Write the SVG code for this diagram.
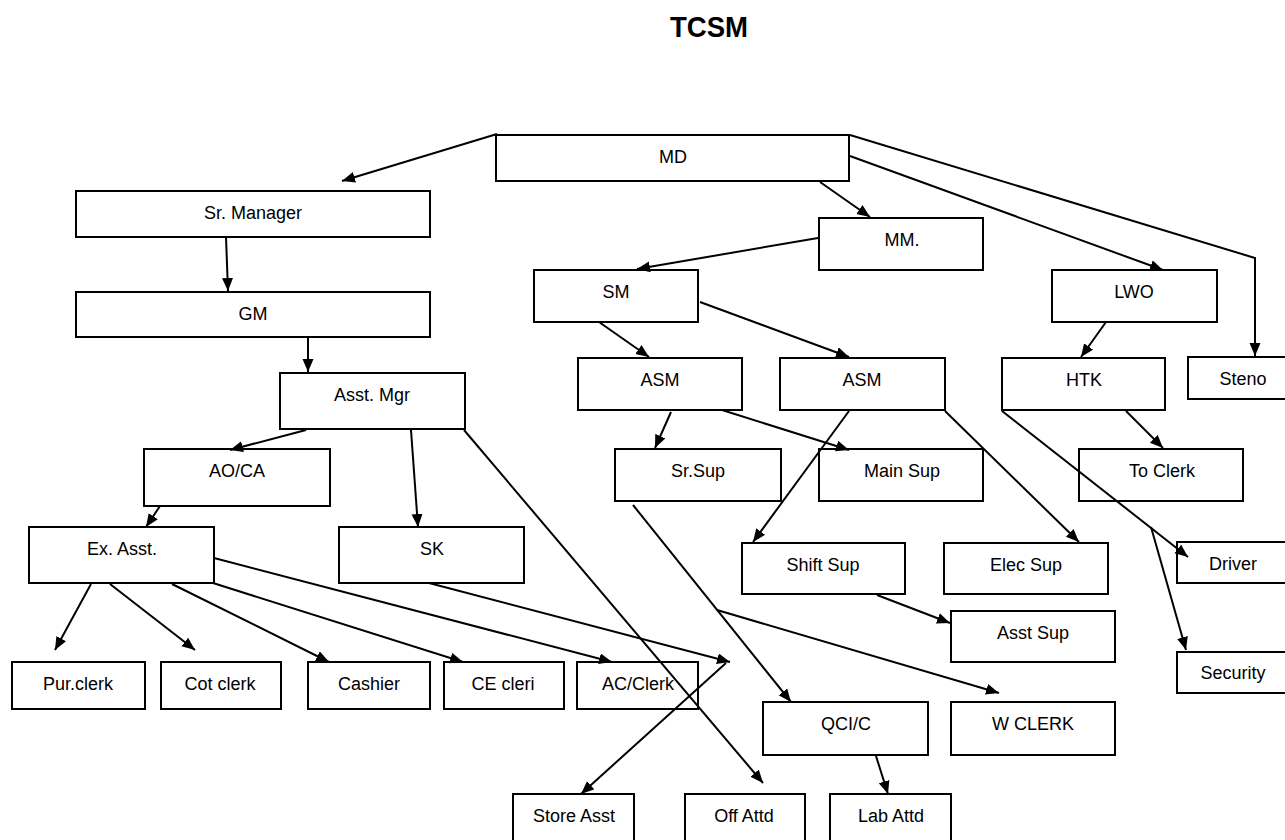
<svg xmlns="http://www.w3.org/2000/svg" width="1285" height="840" viewBox="0 0 1285 840">
  <style>
    .box { fill: #ffffff; stroke: #000000; stroke-width: 2; }
    .lbl { font-family: "Liberation Sans", Arial, sans-serif; font-size: 18px; fill: #000000; text-anchor: middle; }
    .title { font-family: "Liberation Sans", Arial, sans-serif; font-size: 30px; font-weight: bold; fill: #000000; text-anchor: middle; }
    .edge { fill: none; stroke: #000000; stroke-width: 2; marker-end: url(#arrow); }
  </style>
  <defs>
    <marker id="arrow" markerUnits="userSpaceOnUse" markerWidth="15" markerHeight="12" refX="13" refY="5.5" orient="auto">
      <path d="M0,0 L13,5.5 L0,11 z" fill="#000000"/>
    </marker>
  </defs>
  <rect width="1285" height="840" fill="#ffffff"/>

  <text class="title" x="709" y="37" textLength="78" lengthAdjust="spacingAndGlyphs">TCSM</text>

  <!-- nodes -->
  <g id="md"><rect class="box" x="496" y="135" width="353" height="46"/><text class="lbl" x="673" y="163">MD</text></g>
  <g id="sr-manager"><rect class="box" x="76" y="191" width="354" height="46"/><text class="lbl" x="253" y="219">Sr. Manager</text></g>
  <g id="gm"><rect class="box" x="76" y="292" width="354" height="45"/><text class="lbl" x="253" y="320">GM</text></g>
  <g id="asst-mgr"><rect class="box" x="280" y="373" width="185" height="56"/><text class="lbl" x="372" y="401">Asst. Mgr</text></g>
  <g id="mm"><rect class="box" x="819" y="218" width="164" height="52"/><text class="lbl" x="902" y="246">MM.</text></g>
  <g id="sm"><rect class="box" x="534" y="270" width="164" height="52"/><text class="lbl" x="616" y="298">SM</text></g>
  <g id="lwo"><rect class="box" x="1052" y="270" width="165" height="52"/><text class="lbl" x="1134" y="298">LWO</text></g>
  <g id="asm-1"><rect class="box" x="578" y="358" width="164" height="52"/><text class="lbl" x="660" y="386">ASM</text></g>
  <g id="asm-2"><rect class="box" x="780" y="358" width="165" height="52"/><text class="lbl" x="862" y="386">ASM</text></g>
  <g id="htk"><rect class="box" x="1002" y="358" width="163" height="52"/><text class="lbl" x="1084" y="386">HTK</text></g>
  <g id="steno"><rect class="box" x="1188" y="357" width="110" height="42"/><text class="lbl" x="1243" y="385">Steno</text></g>
  <g id="ao-ca"><rect class="box" x="144" y="449" width="186" height="57"/><text class="lbl" x="237" y="477">AO/CA</text></g>
  <g id="sr-sup"><rect class="box" x="615" y="449" width="166" height="52"/><text class="lbl" x="698" y="477">Sr.Sup</text></g>
  <g id="main-sup"><rect class="box" x="819" y="449" width="164" height="52"/><text class="lbl" x="902" y="477">Main Sup</text></g>
  <g id="to-clerk"><rect class="box" x="1079" y="449" width="164" height="52"/><text class="lbl" x="1162" y="477">To Clerk</text></g>
  <g id="ex-asst"><rect class="box" x="29" y="527" width="185" height="56"/><text class="lbl" x="122" y="555">Ex. Asst.</text></g>
  <g id="sk"><rect class="box" x="339" y="527" width="185" height="56"/><text class="lbl" x="432" y="555">SK</text></g>
  <g id="shift-sup"><rect class="box" x="742" y="543" width="163" height="51"/><text class="lbl" x="823" y="571">Shift Sup</text></g>
  <g id="elec-sup"><rect class="box" x="944" y="543" width="164" height="51"/><text class="lbl" x="1026" y="571">Elec Sup</text></g>
  <g id="driver"><rect class="box" x="1177" y="542" width="120" height="41"/><text class="lbl" x="1233" y="570">Driver</text></g>
  <g id="asst-sup"><rect class="box" x="951" y="611" width="164" height="51"/><text class="lbl" x="1033" y="639">Asst Sup</text></g>
  <g id="security"><rect class="box" x="1177" y="652" width="120" height="41"/><text class="lbl" x="1233" y="679">Security</text></g>
  <g id="pur-clerk"><rect class="box" x="12" y="662" width="133" height="47"/><text class="lbl" x="78" y="690">Pur.clerk</text></g>
  <g id="cot-clerk"><rect class="box" x="161" y="662" width="120" height="47"/><text class="lbl" x="220" y="690">Cot clerk</text></g>
  <g id="cashier"><rect class="box" x="308" y="662" width="122" height="47"/><text class="lbl" x="369" y="690">Cashier</text></g>
  <g id="ce-cleri"><rect class="box" x="444" y="662" width="120" height="47"/><text class="lbl" x="503" y="690">CE cleri</text></g>
  <g id="ac-clerk"><rect class="box" x="577" y="662" width="121" height="47"/><text class="lbl" x="638" y="690">AC/Clerk</text></g>
  <g id="qci-c"><rect class="box" x="763" y="702" width="165" height="53"/><text class="lbl" x="846" y="730">QCI/C</text></g>
  <g id="w-clerk"><rect class="box" x="951" y="702" width="164" height="53"/><text class="lbl" x="1033" y="730">W CLERK</text></g>
  <g id="store-asst"><rect class="box" x="513" y="794" width="121" height="60"/><text class="lbl" x="574" y="822">Store Asst</text></g>
  <g id="off-attd"><rect class="box" x="685" y="794" width="120" height="60"/><text class="lbl" x="744" y="822">Off Attd</text></g>
  <g id="lab-attd"><rect class="box" x="830" y="794" width="121" height="60"/><text class="lbl" x="891" y="822">Lab Attd</text></g>

  <!-- connectors, drawn over the boxes they cross -->
  <g id="connectors">
    <path class="edge" d="M497,134 L342,181"/>
    <path class="edge" d="M226,237 L228,291"/>
    <path class="edge" d="M308,337 L308,372"/>
    <path class="edge" d="M820,182 L870,217"/>
    <path class="edge" d="M818,238 L637,269"/>
    <path class="edge" d="M599,322 L649,357"/>
    <path class="edge" d="M700,302 L849,357"/>
    <path class="edge" d="M850,156 L1163,270"/>
    <path class="edge" d="M850,135 L1255,258 L1255,356"/>
    <path class="edge" d="M1106,322 L1081,357"/>
    <path class="edge" d="M306,430 L230,450"/>
    <path class="edge" d="M411,430 L418,527"/>
    <path class="edge" d="M464,430 L763,783"/>
    <path class="edge" d="M160,506 L146,527"/>
    <path class="edge" d="M91,584 L55,650"/>
    <path class="edge" d="M110,584 L195,650"/>
    <path class="edge" d="M172,584 L329,662"/>
    <path class="edge" d="M213,583 L463,662"/>
    <path class="edge" d="M214,558 L612,662"/>
    <path class="edge" d="M429,583 L730,662"/>
    <path class="edge" d="M726,663 L581,794"/>
    <path class="edge" d="M671,412 L655,448"/>
    <path class="edge" d="M722,410 L849,450"/>
    <path class="edge" d="M849,411 L753,542"/>
    <path class="edge" d="M945,411 L1079,542"/>
    <path class="edge" d="M1126,411 L1163,448"/>
    <path class="edge" d="M1002,411 L1188,557"/>
    <path class="edge" d="M1151,527 L1186,650"/>
    <path class="edge" d="M877,595 L950,623"/>
    <path class="edge" d="M633,505 L791,702"/>
    <path class="edge" d="M717,610 L999,693"/>
    <path class="edge" d="M876,756 L888,794"/>
  </g>
</svg>
